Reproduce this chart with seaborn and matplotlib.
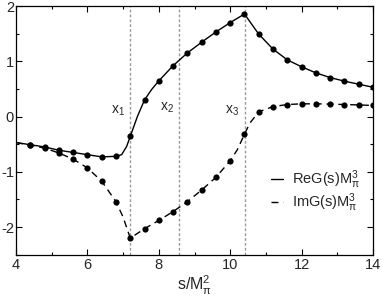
import numpy as np
import pandas as pd
import matplotlib
matplotlib.use("Agg")
import matplotlib.pyplot as plt
import seaborn as sns
from matplotlib.ticker import MultipleLocator

# marker samples
s_mark = [4.4, 4.8, 5.2, 5.6, 6.0, 6.4, 6.8, 7.2, 7.6, 8.0, 8.4, 8.8, 9.2,
          9.6, 10.0, 10.4, 10.8, 11.2, 11.6, 12.0, 12.4, 12.8, 13.2, 13.6, 14.0]
re_mark = [-0.51, -0.55, -0.61, -0.65, -0.69, -0.73, -0.72, -0.36, 0.30, 0.645,
           0.92, 1.15, 1.345, 1.53, 1.70, 1.855, 1.49, 1.22, 1.025, 0.90,
           0.79, 0.705, 0.64, 0.585, 0.53]
im_mark = [-0.52, -0.57, -0.66, -0.77, -0.93, -1.17, -1.54, -2.2, -2.03, -1.88,
           -1.72, -1.54, -1.33, -1.10, -0.80, -0.32, 0.085, 0.18, 0.217, 0.23,
           0.23, 0.225, 0.217, 0.21, 0.20]

# extra points (line only)
s_re_extra = [4.0, 6.96, 7.1, 7.3, 7.4, 7.8]
re_extra = [-0.47, -0.69, -0.54, -0.18, 0.0, 0.49]
s_im_extra = [4.0, 7.0, 10.2, 10.55]
im_extra = [-0.47, -1.82, -0.60, -0.12]

thresholds = [7.2, 8.57, 10.41]
threshold_labels = ["x$_1$", "x$_2$", "x$_3$"]
label_x = [6.86, 8.23, 10.06]
label_y = [0.05, 0.1, 0.06]

re_df = pd.DataFrame({"s": s_mark + s_re_extra, "v": re_mark + re_extra}).sort_values("s")
im_df = pd.DataFrame({"s": s_mark + s_im_extra, "v": im_mark + im_extra}).sort_values("s")
mark_df = pd.DataFrame({"s": s_mark * 2, "v": re_mark + im_mark})

sns.set_theme(style="ticks")
plt.rcParams["font.family"] = ["Liberation Sans", "DejaVu Sans"]
plt.rcParams["mathtext.fontset"] = "custom"
plt.rcParams["mathtext.rm"] = "Liberation Sans"
plt.rcParams["mathtext.it"] = "Liberation Sans"
plt.rcParams["mathtext.default"] = "regular"
plt.rcParams["axes.unicode_minus"] = False

fig = plt.figure(figsize=(3.82, 3.00), dpi=100)
ax = fig.add_axes([16/382, 1-254.7/300, (373-16)/382, (254.7-6)/300])

for xv in thresholds:
    ax.axvline(xv, color="#999999", ls=(0, (2, 1.5)), lw=1.0, zorder=1)

sns.lineplot(data=re_df, x="s", y="v", ax=ax, color="black", lw=1.0,
             sort=False, label=r"ReG(s)M$_\pi^3$", zorder=3)
sns.lineplot(data=im_df, x="s", y="v", ax=ax, color="black", lw=1.0,
             sort=False, ls=(0, (5, 3.5)), label=r"ImG(s)M$_\pi^3$", zorder=3)
sns.scatterplot(data=mark_df, x="s", y="v", ax=ax, color="black", s=20,
                edgecolor="black", linewidth=0, zorder=4, legend=False)

for lx, ly, lt in zip(label_x, label_y, threshold_labels):
    ax.text(lx, ly, lt, fontsize=10, ha="center", va="baseline")

ax.set_xlim(4, 14)
ax.set_ylim(-2.5, 2)
ax.xaxis.set_major_locator(MultipleLocator(2))
ax.xaxis.set_minor_locator(MultipleLocator(1))
ax.yaxis.set_major_locator(MultipleLocator(1))
ax.yaxis.set_minor_locator(MultipleLocator(0.5))
ax.tick_params(which="both", direction="in", top=True, right=True,
               labelsize=10.5, width=0.8, color="black", pad=2.5)
ax.tick_params(axis="y", pad=1.5)
ax.tick_params(which="major", length=4.5)
ax.tick_params(which="minor", length=2.2)
for sp in ax.spines.values():
    sp.set_linewidth(0.9)
    sp.set_color("black")

ax.set_xlabel(r"s/M$_\pi^2$", fontsize=11.5, labelpad=1)
ax.set_ylabel("")

leg = ax.legend(loc="center left", bbox_to_anchor=(0.713, 0.256), frameon=False,
                fontsize=10.5, handlelength=0.86, handletextpad=0.58,
                labelspacing=0.05, borderaxespad=0, borderpad=0)

fig.savefig("out.png", dpi=100)
